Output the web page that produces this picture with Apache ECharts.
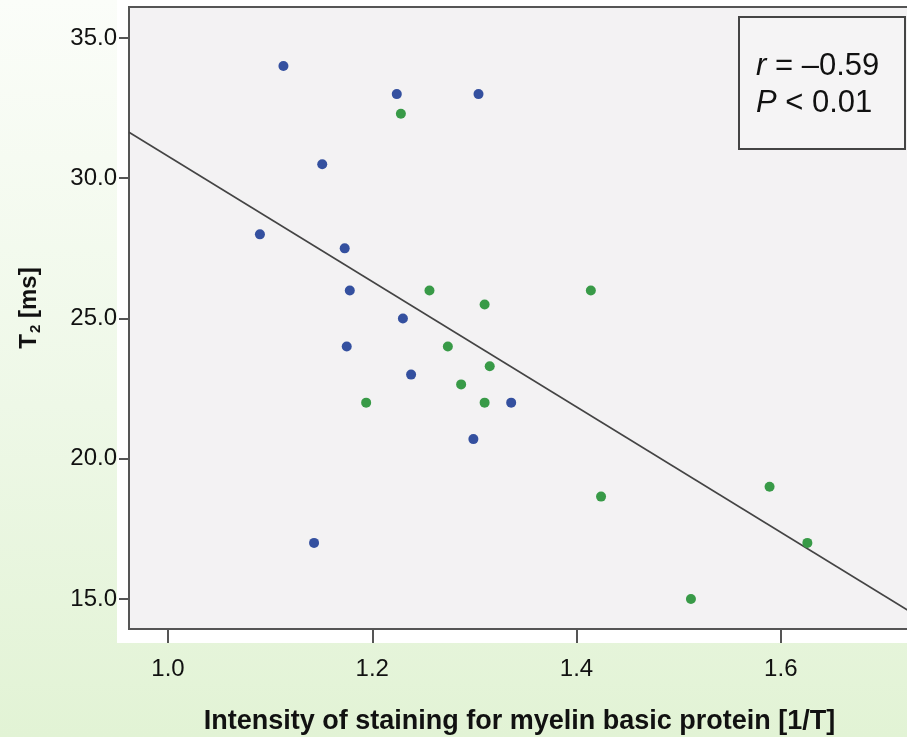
<!DOCTYPE html>
<html>
<head>
<meta charset="utf-8">
<script src="https://cdn.jsdelivr.net/npm/echarts@6/dist/echarts.min.js"></script>
<style>
  html, body { margin: 0; padding: 0; }
  #chart { width: 907px; height: 737px; }
</style>
</head>
<body>
<div id="chart"></div>
<script>
// group 1 (blue) : staining intensity vs T2
var blueX = [1.113, 1.224, 1.304, 1.151, 1.090, 1.173, 1.178, 1.230, 1.175, 1.238, 1.143, 1.336, 1.299];
var blueY = [34.0, 33.0, 33.0, 30.5, 28.0, 27.5, 26.0, 25.0, 24.0, 23.0, 17.0, 22.0, 20.7];
// group 2 (green)
var greenX = [1.228, 1.256, 1.310, 1.414, 1.274, 1.315, 1.287, 1.194, 1.310, 1.424, 1.589, 1.626, 1.512];
var greenY = [32.3, 26.0, 25.5, 26.0, 24.0, 23.3, 22.65, 22.0, 22.0, 18.65, 19.0, 17.0, 15.0];
// fit line end points
var fitX = [0.9618, 1.7265];
var fitY = [31.64, 14.55];

var xTicks = [1.0, 1.2, 1.4, 1.6];
var yTicks = [15, 20, 25, 30, 35];

function pairs(xs, ys) {
  var out = [];
  for (var i = 0; i < xs.length; i++) out.push([xs[i], ys[i]]);
  return out;
}

var myChart = echarts.init(document.getElementById('chart'));
var font = 'Liberation Sans, Arial, sans-serif';

var option = {
  animation: false,
  backgroundColor: {
    type: 'linear', x: 0, y: 0, x2: 0, y2: 1,
    colorStops: [
      { offset: 0, color: '#fbfdf9' },
      { offset: 0.55, color: '#eef8e7' },
      { offset: 1, color: '#e2f3d5' }
    ]
  },
  graphic: [
    // white frame behind the plot
    { type: 'rect', z: -1, shape: { x: 117, y: 0, width: 800, height: 643 }, style: { fill: '#ffffff' } },
    // statistics box
    { type: 'rect', z: 10, shape: { x: 739, y: 17, width: 166, height: 132 },
      style: { fill: '#f5f4f5', stroke: '#444444', lineWidth: 2 } },
    { type: 'text', z: 11, left: 756, top: 51,
      style: {
        text: '{i|r}{n| = –0.59}\n{i|P}{n| < 0.01}',
        rich: {
          i: { fontStyle: 'italic', fontSize: 31, fontFamily: font, fill: '#111', lineHeight: 37 },
          n: { fontSize: 31, fontFamily: font, fill: '#111', lineHeight: 37 }
        }
      } }
  ],
  grid: {
    left: 129, top: 7, right: -3, bottom: 108,
    outerBoundsMode: 'none',
    show: true,
    backgroundColor: '#f3f2f3',
    borderColor: '#555555',
    borderWidth: 2
  },
  xAxis: {
    type: 'value',
    min: 0.9618,
    max: 1.7265,
    name: 'Intensity of staining for myelin basic protein [1/T]',
    nameLocation: 'middle',
    nameGap: 79,
    nameTextStyle: { fontFamily: font, fontWeight: 'bold', fontSize: 27, color: '#111' },
    axisLine: { lineStyle: { color: '#555555', width: 2 } },
    axisTick: { customValues: xTicks, length: 14, lineStyle: { color: '#555555', width: 2 } },
    axisLabel: {
      customValues: xTicks,
      margin: 28,
      fontFamily: font, fontSize: 24, color: '#111',
      formatter: function (v) { return v.toFixed(1); }
    },
    splitLine: { show: false }
  },
  yAxis: {
    type: 'value',
    min: 13.93,
    max: 36.105,
    name: '{b|T}{s|2}{b| [ms]}',
    nameLocation: 'middle',
    nameGap: 86,
    nameTextStyle: {
      padding: [0, 0, 0, 20],
      rich: {
        b: { fontFamily: font, fontWeight: 'bold', fontSize: 24, color: '#111' },
        s: { fontFamily: font, fontWeight: 'bold', fontSize: 15, color: '#111', padding: [12, 0, 0, 1] }
      }
    },
    axisLine: { lineStyle: { color: '#555555', width: 2 } },
    axisTick: { customValues: yTicks, length: 10, lineStyle: { color: '#555555', width: 2 } },
    axisLabel: {
      customValues: yTicks,
      margin: 12,
      fontFamily: font, fontSize: 24, color: '#111',
      formatter: function (v) { return v.toFixed(1); }
    },
    splitLine: { show: false }
  },
  series: [
    {
      name: 'fit',
      type: 'line',
      data: pairs(fitX, fitY),
      symbol: 'none',
      lineStyle: { color: '#444444', width: 1.6 },
      z: 3
    },
    {
      name: 'blue',
      type: 'scatter',
      data: pairs(blueX, blueY),
      symbolSize: 10,
      itemStyle: { color: '#34509f', opacity: 1 },
      z: 4
    },
    {
      name: 'green',
      type: 'scatter',
      data: pairs(greenX, greenY),
      symbolSize: 10,
      itemStyle: { color: '#389a47', opacity: 1 },
      z: 4
    }
  ]
};
myChart.setOption(option);
</script>
</body>
</html>
